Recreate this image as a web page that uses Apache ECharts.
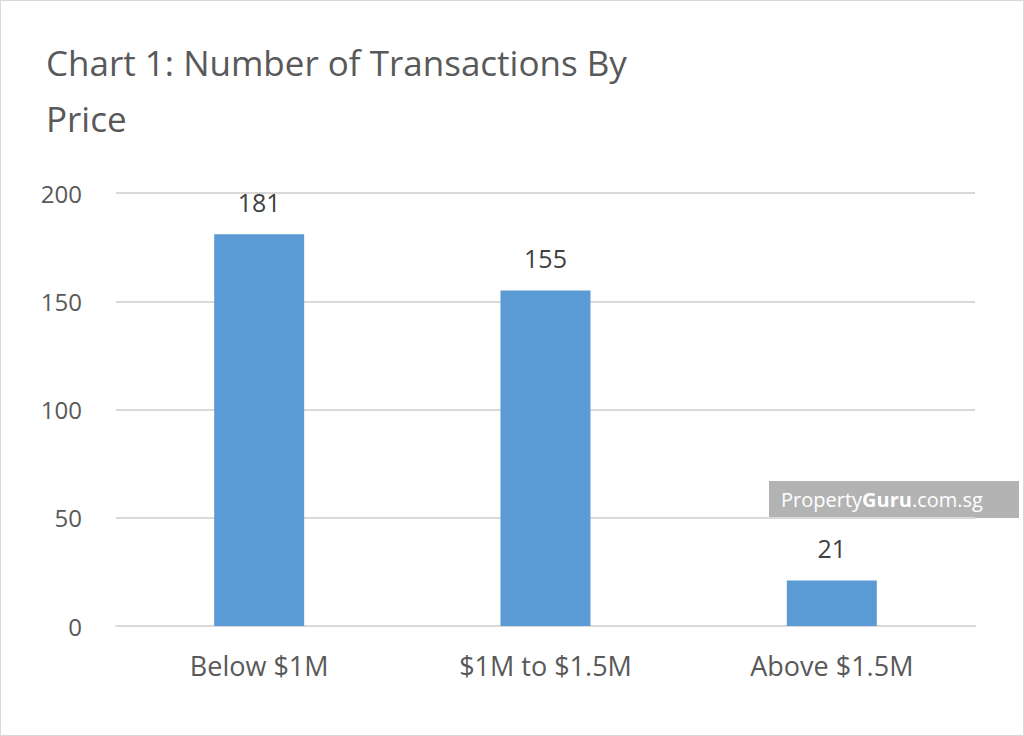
<!DOCTYPE html>
<html>
<head>
<meta charset="utf-8">
<script src="https://cdn.jsdelivr.net/npm/echarts@6/dist/echarts.min.js"></script>
<style>
  html, body { margin: 0; padding: 0; background: #fff; }
  #chart { width: 1024px; height: 736px; box-sizing: border-box; border: 1px solid #d9d9d9; }
</style>
</head>
<body>
<div id="chart"></div>
<script>
var categories = ['Below $1M', '$1M to $1.5M', 'Above $1.5M'];
var transactions = [181, 155, 21];
var yTicks = [0, 50, 100, 150, 200];

var chart = echarts.init(document.getElementById('chart'), null, { renderer: 'svg' });
chart.setOption({
  animation: false,
  title: {
    text: 'Chart 1: Number of Transactions By\nPrice',
    left: 40, top: 28,
    textStyle: { color: '#595959', fontSize: 35, fontWeight: 'normal', fontFamily: 'Open Sans', lineHeight: 56 }
  },
  grid: { left: 115, right: 48, top: 192, bottom: 109 },
  xAxis: {
    type: 'category',
    data: categories,
    axisLine: { lineStyle: { color: '#d9d9d9', width: 2 } },
    axisTick: { show: false },
    axisLabel: { color: '#595959', fontSize: 27, margin: 26, fontFamily: 'Open Sans' }
  },
  yAxis: {
    type: 'value',
    min: yTicks[0], max: yTicks[yTicks.length - 1], interval: 50,
    axisLine: { show: false },
    axisTick: { show: false },
    axisLabel: { color: '#595959', fontSize: 24, margin: 34, fontFamily: 'Open Sans' },
    splitLine: { lineStyle: { color: '#d9d9d9', width: 2 } }
  },
  series: [{
    type: 'bar',
    data: transactions,
    barWidth: 90,
    itemStyle: { color: '#5b9bd5' },
    label: { show: true, position: 'top', distance: 20, color: '#404040', fontSize: 25, fontFamily: 'Open Sans' }
  }],
  graphic: [{
    type: 'group', left: 768, top: 480,
    children: [
      { type: 'rect', shape: { x: 0, y: 0, width: 250, height: 37 }, style: { fill: '#b3b3b3' } },
      { type: 'text', x: 12, y: 18, style: {
        rich: { a: { fill: '#fff', fontSize: 20, fontFamily: 'Open Sans' }, b: { fill: '#fff', fontSize: 20, fontWeight: 'bold', fontFamily: 'Open Sans' } },
        text: '{a|Property}{b|Guru}{a|.com.sg}', verticalAlign: 'middle' } }
    ]
  }]
});
</script>
</body>
</html>
